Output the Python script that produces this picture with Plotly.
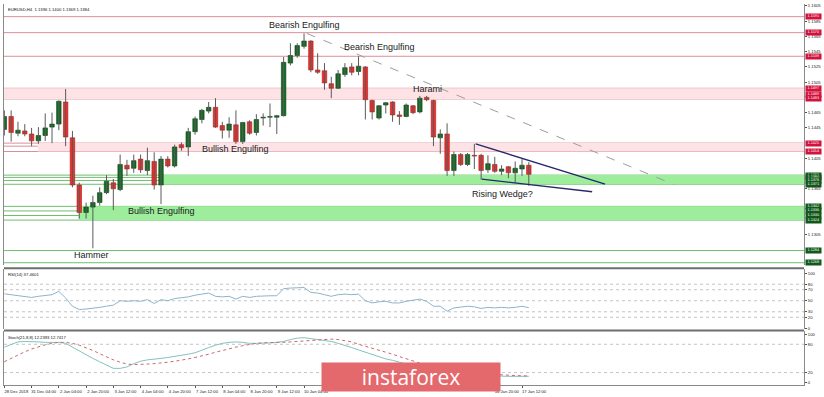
import plotly.graph_objects as go

# ---------------- data ----------------
opens = [1.1443, 1.1460, 1.1438, 1.1441, 1.1437, 1.1428, 1.1435, 1.1446, 1.1450, 1.1479,
         1.1432, 1.1370, 1.1334, 1.1341, 1.1347, 1.1360, 1.1373, 1.1364, 1.1396, 1.1392,
         1.1404, 1.1389, 1.1401, 1.1370, 1.1404, 1.1395, 1.1423, 1.1420, 1.1440, 1.1456,
         1.1467, 1.1472, 1.1448, 1.1442, 1.1449, 1.1427, 1.1453, 1.1439, 1.1458, 1.1459,
         1.1459, 1.1461, 1.1530, 1.1540, 1.1552, 1.1559, 1.1521, 1.1520, 1.1503, 1.1497,
         1.1515, 1.1525, 1.1519, 1.1525, 1.1481, 1.1458, 1.1475, 1.1479, 1.1462, 1.1460,
         1.1474, 1.1466, 1.1485, 1.1481, 1.1432, 1.1437, 1.1389, 1.1410, 1.1397, 1.1409,
         1.1409, 1.1390, 1.1397, 1.1388, 1.1394, 1.1386, 1.1391, 1.1396]
highs = [1.1468, 1.1468, 1.1453, 1.1450, 1.1445, 1.1446, 1.1464, 1.1465, 1.1481, 1.1496,
         1.1441, 1.1373, 1.1347, 1.1356, 1.1367, 1.1383, 1.1378, 1.1410, 1.1403, 1.1410,
         1.1410, 1.1419, 1.1413, 1.1408, 1.1408, 1.1423, 1.1426, 1.1445, 1.1460, 1.1470,
         1.1479, 1.1484, 1.1453, 1.1459, 1.1468, 1.1453, 1.1455, 1.1463, 1.1464, 1.1477,
         1.1462, 1.1538, 1.1556, 1.1556, 1.1569, 1.1560, 1.1543, 1.1530, 1.1512, 1.1521,
         1.1530, 1.1530, 1.1539, 1.1526, 1.1482, 1.1475, 1.1479, 1.1480, 1.1467, 1.1477,
         1.1475, 1.1487, 1.1487, 1.1482, 1.1443, 1.1451, 1.1414, 1.1412, 1.1412, 1.1424,
         1.1411, 1.1409, 1.1407, 1.1396, 1.1395, 1.1401, 1.1404, 1.1400]
lows = [1.1435, 1.1427, 1.1434, 1.1434, 1.1421, 1.1424, 1.1428, 1.1425, 1.1442, 1.1421,
        1.1367, 1.1326, 1.1326, 1.1287, 1.1343, 1.1358, 1.1337, 1.1362, 1.1382, 1.1386,
        1.1386, 1.1383, 1.1364, 1.1345, 1.1393, 1.1393, 1.1415, 1.1408, 1.1436, 1.1451,
        1.1464, 1.1445, 1.1431, 1.1432, 1.1424, 1.1424, 1.1436, 1.1435, 1.1448, 1.1446,
        1.1437, 1.1460, 1.1527, 1.1537, 1.1549, 1.1518, 1.1516, 1.1495, 1.1484, 1.1496,
        1.1512, 1.1514, 1.1514, 1.1456, 1.1456, 1.1456, 1.1464, 1.1453, 1.1449, 1.1459,
        1.1463, 1.1464, 1.1480, 1.1421, 1.1411, 1.1382, 1.1382, 1.1395, 1.1395, 1.1391,
        1.1377, 1.1386, 1.1386, 1.1383, 1.1379, 1.1373, 1.1382, 1.1369]
closes = [1.1460, 1.1439, 1.1442, 1.1437, 1.1428, 1.1435, 1.1445, 1.1450, 1.1480, 1.1433,
          1.1370, 1.1334, 1.1341, 1.1347, 1.1360, 1.1375, 1.1365, 1.1397, 1.1391, 1.1402,
          1.1390, 1.1402, 1.1370, 1.1404, 1.1395, 1.1420, 1.1419, 1.1440, 1.1457, 1.1468,
          1.1472, 1.1446, 1.1442, 1.1450, 1.1427, 1.1452, 1.1438, 1.1456, 1.1459, 1.1460,
          1.1461, 1.1531, 1.1540, 1.1553, 1.1559, 1.1521, 1.1518, 1.1504, 1.1497, 1.1516,
          1.1524, 1.1518, 1.1526, 1.1482, 1.1466, 1.1474, 1.1478, 1.1462, 1.1460, 1.1475,
          1.1465, 1.1484, 1.1482, 1.1433, 1.1437, 1.1389, 1.1410, 1.1397, 1.1410, 1.1408,
          1.1389, 1.1398, 1.1388, 1.1391, 1.1386, 1.1392, 1.1396, 1.1384]

rsi = [62.5, 61, 60, 58, 56, 58, 60, 61, 67, 55,
       40, 34, 35, 36, 38, 40, 42, 50, 49, 50,
       49, 52, 45, 52, 50, 54, 55, 57, 60, 62,
       64, 58, 57, 58, 53, 58, 56, 58, 59, 59,
       59, 72, 73, 74, 74, 65, 64, 61, 58, 61,
       62, 61, 62, 50, 46, 48, 49, 46, 46, 49,
       51, 53, 49, 40, 40, 31, 37, 38, 40, 39,
       36, 38, 37, 38, 37, 38, 40, 37.46]

stoch_main = [74, 80, 85, 86, 86, 85, 84, 84, 84, 82,
              74, 66, 57, 50, 43, 36, 29, 29, 32, 39,
              44, 47, 48, 50, 52, 54, 56, 59, 62, 68,
              73, 78, 82, 84, 85, 84, 82, 82, 82, 83,
              84, 86, 90, 93, 94, 92, 90, 88, 86, 82,
              78, 73, 68, 63, 58, 53, 49, 46, 42, 38,
              33, 30, 27, 25, 22, 20, 18, 17, 16, 15,
              14, 13, 13, 12.5, 12, 12, 12, 12.24]
stoch_signal = [43, 50, 58, 64, 70, 75, 79, 82, 84, 84,
                82, 78, 73, 67, 60, 53, 47, 42, 38, 37,
                37, 38, 39, 40, 42, 44, 46, 49, 52, 55,
                59, 63, 67, 70, 74, 77, 80, 82, 83, 84,
                84, 84, 85, 86, 88, 89, 90, 91, 91, 90,
                88, 85, 80, 76, 72, 68, 64, 59, 54, 49,
                44, 40, 37, 34, 31, 28, 26, 24, 22, 20,
                18.5, 17, 16, 15, 14.3, 13.6, 13.1, 12.74]

time_label_idx = [0, 4, 8, 12, 16, 20, 24, 28, 32, 36, 40, 44, 48, 52, 56, 60, 64, 68, 72, 76]
# labels for 10 Jan 20:00 .. 16 Jan 04:00 are hidden behind the logo in the reference
time_labels = ["28 Dec 2018", "31 Dec 04:00", "2 Jan 04:00", "2 Jan 20:00", "3 Jan 12:00",
               "4 Jan 04:00", "4 Jan 20:00", "7 Jan 12:00", "8 Jan 04:00", "8 Jan 20:00",
               "9 Jan 12:00", "10 Jan 04:00", "", "", "",
               "", "", "", "16 Jan 20:00", "17 Jan 12:00"]

# price scale labels that are not hidden behind level tags
price_ticks = [1.1305, 1.1365, 1.1405, 1.1445, 1.1465, 1.1505, 1.1525, 1.1545, 1.1565,
               1.1585, 1.1605]
rsi_ticks = [0, 20, 30, 50, 70, 80, 100]
rsi_grid = [20, 30, 50, 70, 80]
stoch_ticks = [0, 20, 80, 100]
stoch_grid = [20, 80]

red_levels = [1.1591, 1.1570, 1.1539, 1.1497, 1.1489, 1.1483, 1.1425, 1.1414]
red_extra_lines = [1.1421]
green_levels = [1.1383, 1.1380, 1.1376, 1.1371, 1.1342, 1.1336, 1.1330, 1.1324, 1.1284, 1.1268]

# zones: (low, high, start bar)
pink_zones = [(1.1483, 1.1497, -0.05), (1.1414, 1.1425, 4.9)]
green_zones = [(1.1371, 1.1383, 23.0), (1.1324, 1.1342, 10.9)]

trend_x = [44.4, 98.3]
trend_y = [1.15690, 1.13707]
wedge_up_x = [69.2, 88.2]
wedge_up_y = [1.14240, 1.13712]
wedge_lo_x = [70.1, 86.3]
wedge_lo_y = [1.13777, 1.13612]

X_MIN = -0.05
X_MAX = 117.4

# ---------------- figure ----------------
n = len(opens)
idx = list(range(n))
fig = go.Figure()

# wicks
wx, wy = [], []
for i in idx:
    wx += [i, i, None]
    wy += [lows[i], highs[i], None]
fig.add_trace(go.Scatter(x=wx, y=wy, mode="lines", line=dict(color="#5a5a5a", width=1),
                         hoverinfo="skip", xaxis="x", yaxis="y"))

# bodies
base = [min(o, c) for o, c in zip(opens, closes)]
height = [max(abs(c - o), 0.00004) for o, c in zip(opens, closes)]
fill = ["#146b24" if c >= o else "#e8322e" for o, c in zip(opens, closes)]
edge = ["#0c3f14" if c >= o else "#a51d1d" for o, c in zip(opens, closes)]
fig.add_trace(go.Bar(x=idx, y=height, base=base, width=0.66,
                     marker=dict(color=fill, line=dict(color=edge, width=0.6)),
                     hoverinfo="skip", xaxis="x", yaxis="y"))

# trend lines
fig.add_trace(go.Scatter(x=trend_x, y=trend_y, mode="lines",
                         line=dict(color="#9c9c9c", width=1, dash="dash"), xaxis="x", yaxis="y"))
fig.add_trace(go.Scatter(x=wedge_up_x, y=wedge_up_y, mode="lines",
                         line=dict(color="#28286e", width=1.4), xaxis="x", yaxis="y"))
fig.add_trace(go.Scatter(x=wedge_lo_x, y=wedge_lo_y, mode="lines",
                         line=dict(color="#28286e", width=1.4), xaxis="x", yaxis="y"))

# RSI
fig.add_trace(go.Scatter(x=idx, y=rsi, mode="lines", line=dict(color="#8db3cb", width=1),
                         xaxis="x", yaxis="y2"))
# Stochastic
fig.add_trace(go.Scatter(x=idx, y=stoch_main, mode="lines", line=dict(color="#84c2c0", width=1),
                         xaxis="x", yaxis="y3"))
fig.add_trace(go.Scatter(x=idx, y=stoch_signal, mode="lines",
                         line=dict(color="#c86a6a", width=1, dash="dot"), xaxis="x", yaxis="y3"))

shapes = []
for lo, hi, start in pink_zones:
    shapes.append(dict(type="rect", xref="x", yref="y", x0=start, x1=X_MAX, y0=lo, y1=hi,
                       fillcolor="#fde2e6", line=dict(width=0), layer="below"))
for lo, hi, start in green_zones:
    shapes.append(dict(type="rect", xref="x", yref="y", x0=start, x1=X_MAX, y0=lo, y1=hi,
                       fillcolor="#9ded9d", line=dict(width=0), layer="below"))
for lv in red_levels + red_extra_lines:
    shapes.append(dict(type="line", xref="paper", yref="y", x0=0, x1=1, y0=lv, y1=lv,
                       line=dict(color="#dc8e9a", width=1), layer="below"))
for lv in green_levels:
    shapes.append(dict(type="line", xref="paper", yref="y", x0=0, x1=1, y0=lv, y1=lv,
                       line=dict(color="#6fbf6f", width=1), layer="below"))
for g in rsi_grid:
    shapes.append(dict(type="line", xref="paper", yref="y2", x0=0, x1=1, y0=g, y1=g,
                       line=dict(color="#c4c4c4", width=1, dash="dot"), layer="below"))
for g in stoch_grid:
    shapes.append(dict(type="line", xref="paper", yref="y3", x0=0, x1=1, y0=g, y1=g,
                       line=dict(color="#c4c4c4", width=1, dash="dot"), layer="below"))
# panel separators
for yp in [118 / 385, 55 / 385]:
    shapes.append(dict(type="line", xref="paper", yref="paper", x0=0, x1=1, y0=yp, y1=yp,
                       line=dict(color="#6e6e6e", width=2)))

annotations = []
small = dict(family="Liberation Sans, Arial, sans-serif", size=4.2, color="#111")
annotations.append(dict(xref="paper", yref="paper", x=0.002, y=0.997, xanchor="left", yanchor="top",
                        text="EURUSD,H4  1.1396 1.1400 1.1369 1.1384", showarrow=False, font=small))
annotations.append(dict(xref="paper", yref="paper", x=0.003, y=(388 - 272) / 385, xanchor="left",
                        yanchor="top", text="RSI(14) 37.4601", showarrow=False, font=small))
annotations.append(dict(xref="paper", yref="paper", x=0.003, y=(388 - 335) / 385, xanchor="left",
                        yanchor="top", text="Stoch(21,8,8) 12.2393 12.7417", showarrow=False, font=small))

tag_font = dict(family="Liberation Sans, Arial", size=3.8, color="white")
for lv in red_levels:
    annotations.append(dict(xref="paper", yref="y", x=1, y=lv, xanchor="left", yanchor="middle",
                            xshift=1, text=f"{lv:.4f}", showarrow=False, bgcolor="#d3123c",
                            borderpad=0.3, width=14, height=4, font=tag_font))
for lv in green_levels:
    annotations.append(dict(xref="paper", yref="y", x=1, y=lv, xanchor="left", yanchor="middle",
                            xshift=1, text=f"{lv:.4f}", showarrow=False, bgcolor="#11581a",
                            borderpad=0.3, width=14, height=4, font=tag_font))

label_font = dict(family="Liberation Sans, Arial, sans-serif", size=9, color="#1a1a1a")
notes = [("Bearish Engulfing", 44.0, 1.15803), ("Bearish Engulfing", 55.1, 1.15511),
         ("Harami", 62.1, 1.14959), ("Bullish Engulfing", 33.9, 1.14167),
         ("Bullish Engulfing", 23.0, 1.13353), ("Hammer", 12.8, 1.12777),
         ("Rising Wedge?", 73.2, 1.13582)]
for t, xx, yy in notes:
    annotations.append(dict(xref="x", yref="y", x=xx, y=yy, text=t, showarrow=False,
                            xanchor="center", yanchor="middle", font=label_font))

# logo
annotations.append(dict(xref="paper", yref="paper", x=(412 - 3) / 804, y=(388 - 380) / 385,
                        xanchor="center", yanchor="middle", text="instaforex", showarrow=False,
                        bgcolor="#e4696d", width=178, height=28, borderpad=0,
                        font=dict(family="Open Sans, Roboto, sans-serif", size=21, color="white")))

axis_font = dict(family="Liberation Sans, Arial, sans-serif", size=4.2, color="#222")
fig.update_layout(
    width=824, height=397,
    margin=dict(l=3, r=17, t=3, b=9),
    paper_bgcolor="white", plot_bgcolor="white",
    showlegend=False, hovermode=False,
    font=axis_font,
    shapes=shapes, annotations=annotations,
    xaxis=dict(domain=[0, 1], range=[X_MIN, X_MAX], anchor="y3",
               tickvals=time_label_idx, ticktext=time_labels, ticks="outside", ticklen=2,
               tickcolor="#555", ticklabelshift=12, showgrid=False, zeroline=False,
               showline=True, linecolor="#8a8a8a", linewidth=1, tickfont=axis_font),
    yaxis=dict(domain=[121 / 385, 1], range=[1.12647, 1.16076], anchor="x", side="right",
               tickvals=price_ticks, ticktext=[f"{v:.4f}" for v in price_ticks],
               ticks="outside", ticklen=2, tickcolor="#555", showgrid=False, zeroline=False,
               showline=True, mirror=True, linecolor="#8a8a8a", tickfont=axis_font),
    yaxis2=dict(domain=[57 / 385, 117 / 385], range=[-0.54, 107.2], anchor="x", side="right",
                tickvals=rsi_ticks, ticktext=[str(v) for v in rsi_ticks],
                ticks="outside", ticklen=2, tickcolor="#555", showgrid=False, zeroline=False,
                showline=True, mirror=True, linecolor="#8a8a8a", tickfont=axis_font),
    yaxis3=dict(domain=[0, 54.5 / 385], range=[-6.3, 108], anchor="x", side="right",
                tickvals=stoch_ticks, ticktext=[str(v) for v in stoch_ticks],
                ticks="outside", ticklen=2, tickcolor="#555", showgrid=False, zeroline=False,
                showline=True, mirror=True, linecolor="#8a8a8a", tickfont=axis_font),
)

fig.write_html("out.html")
